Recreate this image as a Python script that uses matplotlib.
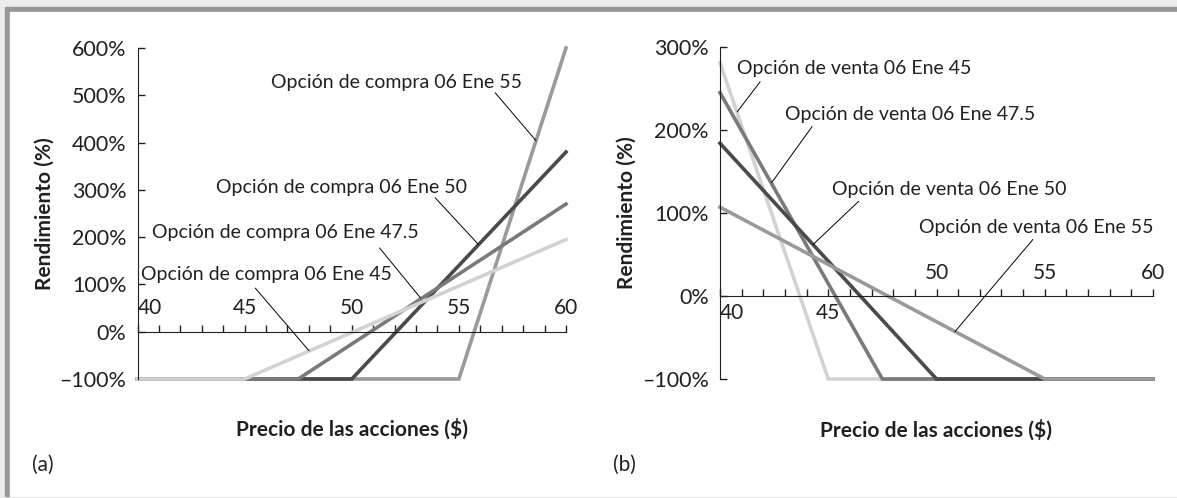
import matplotlib.pyplot as plt
from matplotlib.patches import Rectangle

# strike prices and the return at the far end of each payoff line
call_strikes = [55, 50, 47.5, 45]
call_ret_60 = [600, 380, 270, 195]
call_colors = ['#9a9a9a', '#4a4a4a', '#7a7a7a', '#d2d2d2']

put_strikes = [45, 47.5, 50, 55]
put_ret_40 = [281, 245, 184, 107]
put_colors = ['#d2d2d2', '#7a7a7a', '#4a4a4a', '#9a9a9a']

call_labels = ['Opción de compra 06 Ene 55', 'Opción de compra 06 Ene 50',
               'Opción de compra 06 Ene 47.5', 'Opción de compra 06 Ene 45']
call_text_xy = [(52.1, 528), (49.5, 304), (46.9, 209), (46.0, 120)]
call_lead = [((56.7, 505), (58.6, 404)), ((53.9, 283), (55.9, 185)),
             ((51.3, 177), (53.2, 72)), ((45.5, 92), (48.0, -40))]

put_labels = ['Opción de venta 06 Ene 45', 'Opción de venta 06 Ene 47.5',
              'Opción de venta 06 Ene 50', 'Opción de venta 06 Ene 55']
put_text_xy = [(46.2, 274), (48.8, 219), (50.6, 128), (54.6, 82)]
put_lead = [((41.85, 258), (40.8, 222)), ((44.25, 204), (42.4, 137)),
            ((46.4, 114), (44.3, 62)), ((54.45, 68), (50.85, -43))]

left_yticks = [-100, 0, 100, 200, 300, 400, 500, 600]
right_yticks = [-100, 0, 100, 200, 300]
xtick_labels = [40, 45, 50, 55, 60]

W, H = 1177, 498
FS = 14
TXT = '#231f20'

plt.rcParams['font.family'] = ['Lato', 'DejaVu Sans']

fig = plt.figure(figsize=(W / 100, H / 100), dpi=100, facecolor='#ececec')
# grey frame around the exhibit
fig.patches.append(Rectangle((5 / W, 2 / H), 1, (H - 9) / H, transform=fig.transFigure,
                             color='#979797', zorder=-10))
fig.patches.append(Rectangle((10 / W, 2 / H), 1, (H - 14) / H, transform=fig.transFigure,
                             color='white', zorder=-9))


def pct(v):
    return ('\u2013' + str(-v) if v < 0 else str(v)) + '%'


def setup_axes(ax, ymax, yticks):
    ax.set_xlim(40, 60)
    ax.set_ylim(-100, ymax)
    ax.patch.set_visible(False)
    for s in ['top', 'right']:
        ax.spines[s].set_visible(False)
    ax.spines['bottom'].set_position(('data', 0))
    ax.spines['left'].set_color(TXT)
    ax.spines['bottom'].set_color(TXT)
    ax.set_xticks(range(40, 61))
    ax.tick_params(axis='x', direction='in', length=5, width=1, color=TXT, labelbottom=False)
    ax.set_yticks(yticks)
    ax.set_yticklabels([pct(v) for v in yticks])
    ax.tick_params(axis='y', direction='in', length=5, width=1, color=TXT, pad=8,
                   labelsize=15.5, labelcolor=TXT)
    ax.set_ylabel('Rendimiento (%)', fontsize=15, fontweight='bold', color=TXT, labelpad=3.5)
    ax.set_xlabel('Precio de las acciones ($)', fontsize=15, fontweight='bold', color=TXT)
    ax.xaxis.set_label_coords(0.5, -0.12)


def add_labels(ax, labels, text_xy, leads):
    for lab, (tx, ty), (p0, p1) in zip(labels, text_xy, leads):
        ax.text(tx, ty, lab, fontsize=FS, color=TXT, ha='center', va='center')
        ax.plot([p0[0], p1[0]], [p0[1], p1[1]], color='black', lw=0.7, clip_on=False)


# (a) calls
ax1 = fig.add_axes([137.5 / W, 119 / H, 428.5 / W, 331 / H])
setup_axes(ax1, 600, left_yticks)
for k, r, c in zip(call_strikes, call_ret_60, call_colors):
    ax1.plot([40, k, 60], [-100, -100, r], color=c, lw=2.6, clip_on=False,
             solid_joinstyle='miter')
for v in xtick_labels:
    ax1.annotate(str(v), (v, 0), xytext=(0, 17), textcoords='offset points',
                 ha='left' if v == 40 else 'center', va='center', fontsize=15, color=TXT)
add_labels(ax1, call_labels, call_text_xy, call_lead)

# (b) puts
ax2 = fig.add_axes([720 / W, 119 / H, 433 / W, 332 / H])
setup_axes(ax2, 300, right_yticks)
for k, r, c in zip(put_strikes, put_ret_40, put_colors):
    ax2.plot([40, k, 60], [r, -100, -100], color=c, lw=2.6, clip_on=False,
             solid_joinstyle='miter')
for v in xtick_labels:
    up = v >= 50
    ax2.annotate(str(v), (v, 0), xytext=(0, 16.5 if up else -12), textcoords='offset points',
                 ha='left' if v == 40 else 'center', va='center', fontsize=15, color=TXT)
add_labels(ax2, put_labels, put_text_xy, put_lead)

fig.text(32 / W, 1 - 465 / H, '(a)', fontsize=15, color=TXT, va='center')
fig.text(613 / W, 1 - 465 / H, '(b)', fontsize=15, color=TXT, va='center')

fig.savefig('out.png', dpi=100, facecolor=fig.get_facecolor())
